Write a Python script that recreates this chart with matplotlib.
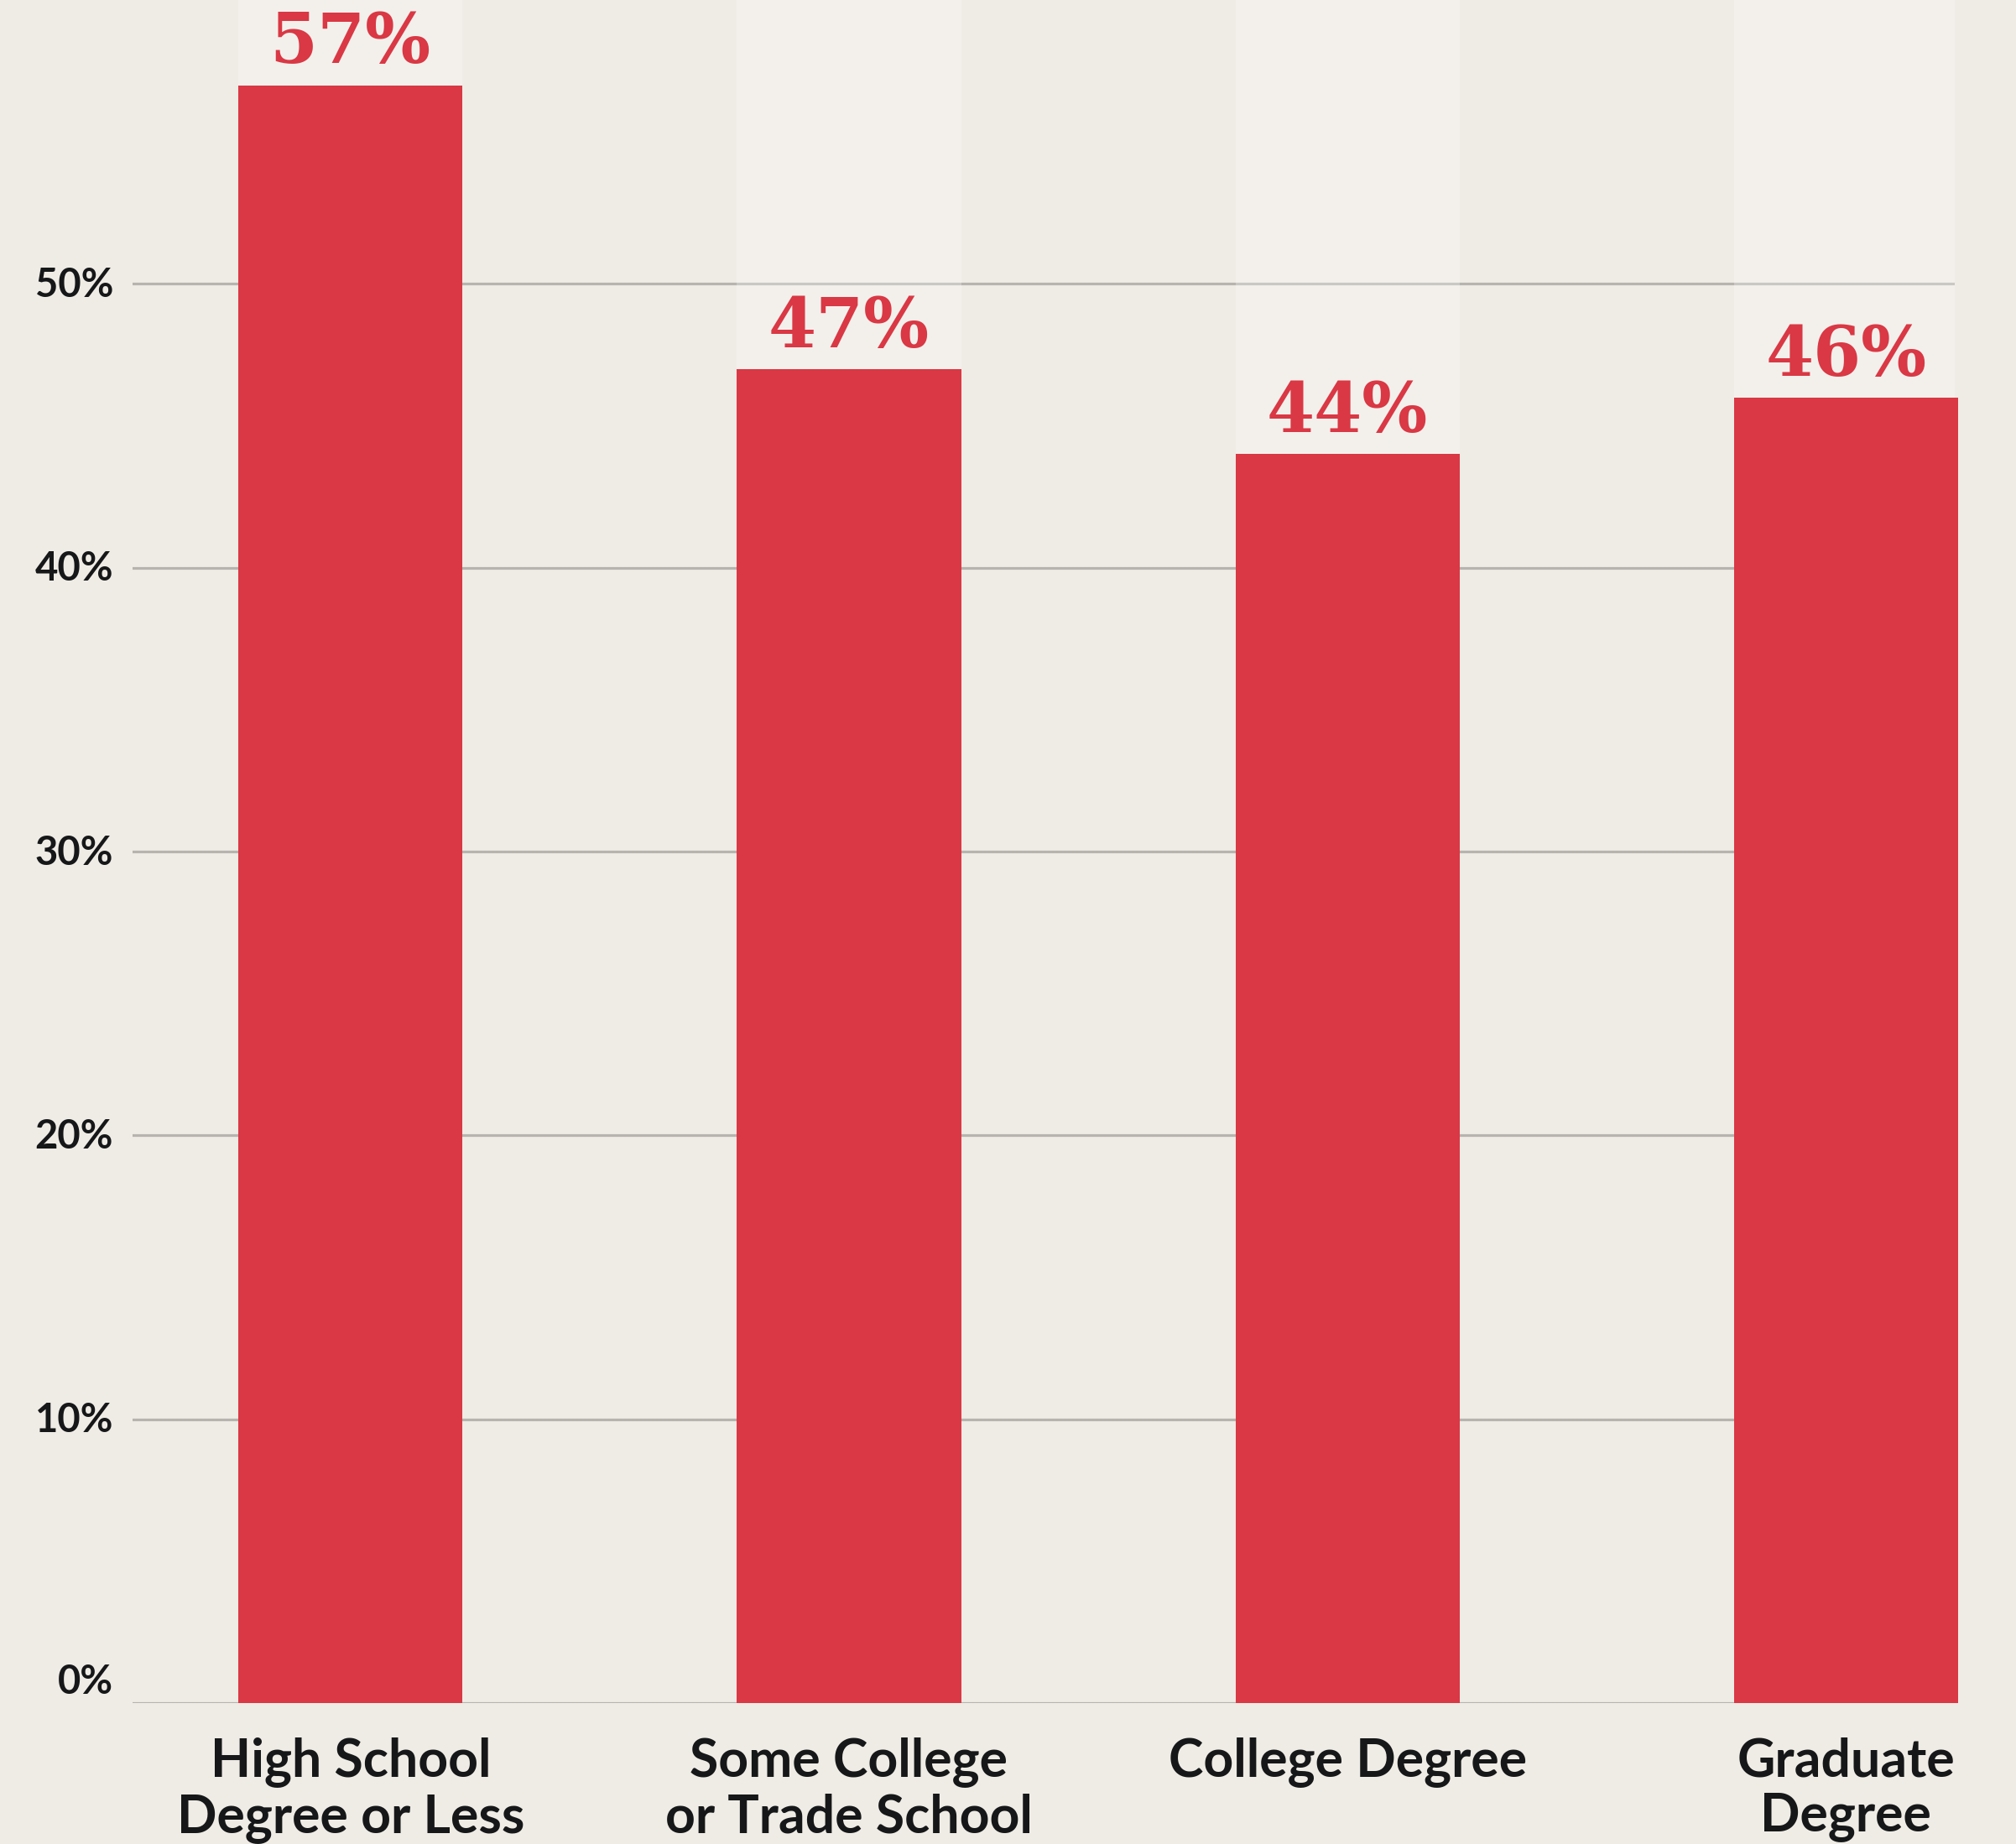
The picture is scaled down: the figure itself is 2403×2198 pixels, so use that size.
import numpy as np
import matplotlib
matplotlib.use("Agg")
from matplotlib import pyplot as plt

# data
categories = ["High School\nDegree or Less", "Some College\nor Trade School",
              "College Degree", "Graduate\nDegree"]
values = [57, 47, 44, 46]
yticks = [0, 10, 20, 30, 40, 50]
ytick_labels = ["0%", "10%", "20%", "30%", "40%", "50%"]

bg = "#EFEBE5"
red = "#D93844"
grid_col = "#B7B4AF"
ink = "#151718"

fig = plt.figure(figsize=(24.03, 21.98), dpi=100, facecolor=bg)
ax = fig.add_axes([0.0658, 0.0764, 0.9038, 0.9236])
ax.set_facecolor(bg)

x = np.arange(len(categories))
top = 60
w = 0.45

ax.set_xlim(-0.437, 3.218)
ax.set_ylim(0, top)

# gridlines
for t in yticks:
    ax.axhline(t, color=grid_col, lw=2.3, zorder=1)

# light band above each bar
ax.bar(x, [top - v for v in values], bottom=values, width=w,
       color="white", alpha=0.27, zorder=2, linewidth=0)
ax.bar(x, values, width=w, color=red, zorder=3, linewidth=0, clip_on=False)

for xi, v in zip(x, values):
    ax.text(xi, v + 0.77, f"{v}%", ha="center", va="baseline", color=red,
            fontsize=59, fontweight="bold", family="DejaVu Serif", zorder=4)

for s in ax.spines.values():
    s.set_visible(False)

# y labels sit on their gridline, 0% rests just above the baseline
ax.set_yticks(yticks)
ax.set_yticklabels([])
ax.tick_params(axis="y", length=0)
ytr = ax.get_yaxis_transform()
for t, lab in zip(yticks, ytick_labels):
    if t == 0:
        ax.text(-0.0106, t + 0.08, lab, transform=ytr, ha="right", va="bottom",
                fontsize=34, fontweight="bold", family="Lato", color=ink)
    else:
        ax.text(-0.0106, t - 0.05, lab, transform=ytr, ha="right", va="center",
                fontsize=34, fontweight="bold", family="Lato", color=ink)

ax.set_xticks(x)
ax.set_xticklabels(categories, fontsize=45, fontweight="bold",
                   family="Lato", color=ink, linespacing=1.15)
ax.tick_params(axis="x", length=0, pad=29)

fig.savefig("out.png", dpi=100, facecolor=bg)
